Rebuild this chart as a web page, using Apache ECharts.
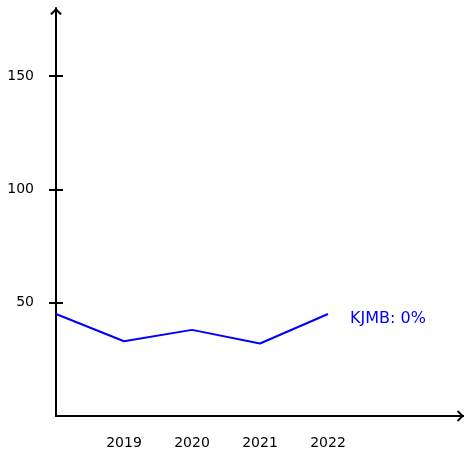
<!DOCTYPE html>
<html>
<head>
<meta charset="utf-8">
<script src="https://cdn.jsdelivr.net/npm/echarts@6/dist/echarts.min.js"></script>
<style>
    html, body { margin: 0; padding: 0; background: #fff; }
    #chart { width: 464px; height: 452px; }
</style>
</head>
<body>
<div id="chart"></div>
<script>
// Données
const years = [2018, 2019, 2020, 2021, 2022];
const values = [45, 33, 38, 32, 45];
const seriesName = "KJMB";
const xLabels = [2019, 2020, 2021, 2022];
const yTicks = [50, 100, 150];

const FONT = "DejaVu Sans";
const BLUE = "#0000ff";

// Flèche ouverte (chevron) pour le bout des axes
const ARROW = "path://M5,0 L10,5 L8.6,6 L5,2.4 L1.4,6 L0,5 Z";

// Échelle verticale : 0 à 180 sur la hauteur de la grille
const Y_MAX = 180;
const GRID_TOP = 8;
const GRID_BOTTOM = 36;
const PLOT_HEIGHT = 452 - GRID_TOP - GRID_BOTTOM;

// Variation entre la première et la dernière valeur
const change = Math.round((values[values.length - 1] - values[0]) / values[0] * 100);

const points = years.map((year, i) => [year, values[i]]);

// Ligne d'axe avec flèche (un objet neuf à chaque fois, ECharts modifie les options)
function arrowLine()
{
    return {
        show: true,
        onZero: false,
        symbol: ["none", ARROW],
        symbolSize: [13, 7],
        symbolOffset: [0, -3.5],
        lineStyle: { color: "#000", width: 2 }
    };
}

// Deuxième grille, qui s'arrête à la dernière graduation : sert juste à dessiner
// la moitié intérieure des graduations (elles traversent l'axe)
const lastTick = yTicks[yTicks.length - 1];
const innerTop = GRID_TOP + PLOT_HEIGHT * (1 - lastTick / Y_MAX);

const chart = echarts.init(document.getElementById("chart"));

chart.setOption({
    animation: false,
    grid: [
        { left: 56, right: 0, top: GRID_TOP, bottom: GRID_BOTTOM },
        { left: 56, right: 0, top: innerTop, bottom: GRID_BOTTOM }
    ],
    xAxis: [
        {
            type: "value",
            min: 2018,
            max: 2024,
            interval: 1,
            axisLine: arrowLine(),
            axisTick: { show: false },
            splitLine: { show: false },
            axisLabel: {
                customValues: xLabels,
                formatter: (v) => String(v),
                margin: 20,
                color: "#000",
                fontFamily: FONT,
                fontSize: 14
            }
        },
        {
            gridIndex: 1,
            type: "value",
            min: 2018,
            max: 2024,
            show: false
        }
    ],
    yAxis: [
        {
            type: "value",
            min: 0,
            max: Y_MAX,
            interval: 50,
            axisLine: arrowLine(),
            splitLine: { show: false },
            axisTick: {
                show: true,
                customValues: yTicks,
                length: 7,
                lineStyle: { color: "#000", width: 2 }
            },
            axisLabel: {
                customValues: yTicks,
                margin: 22,
                color: "#000",
                fontFamily: FONT,
                fontSize: 14
            }
        },
        {
            // La ligne se superpose exactement à celle du premier axe,
            // les libellés sont transparents (sans eux les graduations ne sortent pas)
            gridIndex: 1,
            type: "value",
            min: 0,
            max: lastTick,
            interval: 50,
            axisLine: { show: true, onZero: false, lineStyle: { color: "#000", width: 2 } },
            splitLine: { show: false },
            axisLabel: {
                show: true,
                margin: 22,
                color: "rgba(0,0,0,0)",
                fontFamily: FONT,
                fontSize: 14
            },
            axisTick: {
                show: true,
                inside: true,
                length: 7,
                lineStyle: { color: "#000", width: 2 }
            }
        }
    ],
    series: [
        {
            name: seriesName,
            type: "line",
            data: points,
            symbol: "none",
            lineStyle: { color: BLUE, width: 2 },
            endLabel: {
                show: true,
                formatter: () => seriesName + ": " + change + "%",
                color: BLUE,
                fontFamily: FONT,
                fontSize: 16,
                distance: 22,
                offset: [0, 5]
            }
        },
        {
            // Mêmes points, invisibles, pour rattacher les axes de la seconde grille
            type: "line",
            xAxisIndex: 1,
            yAxisIndex: 1,
            data: points,
            symbol: "none",
            silent: true,
            lineStyle: { opacity: 0 }
        }
    ]
});
</script>
</body>
</html>
